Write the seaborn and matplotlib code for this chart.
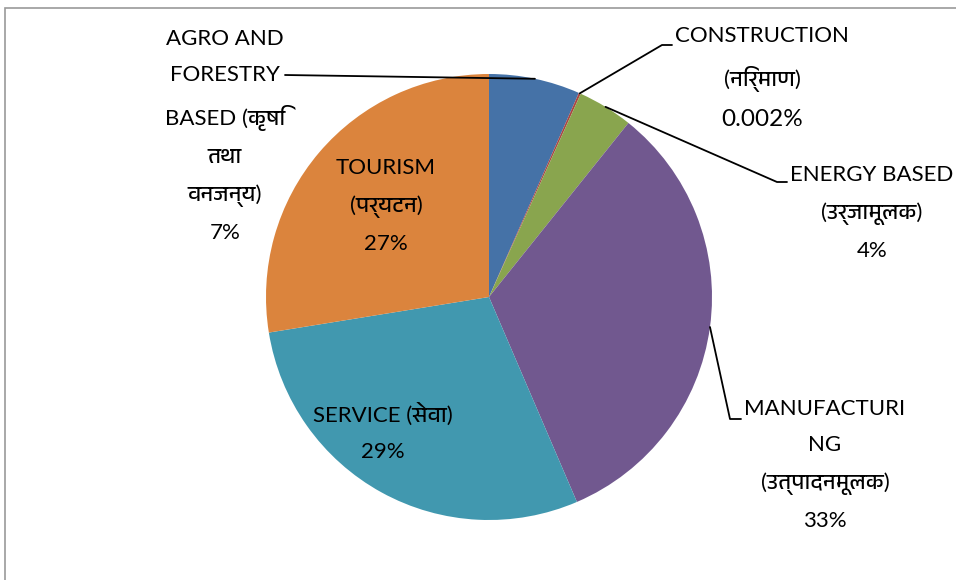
import numpy as np
import matplotlib
matplotlib.use("Agg")
import matplotlib.pyplot as plt
import seaborn as sns
from matplotlib import font_manager
from matplotlib.patches import Rectangle

# slice sizes (percent of a full turn), clockwise from 12 o'clock
sectors = ["AGRO AND\nFORESTRY\nBASED (कृषि\nतथा\nवनजन्य)",
           "CONSTRUCTION\n(निर्माण)",
           "ENERGY BASED\n(उर्जामूलक)",
           "MANUFACTURI\nNG\n(उत्पादनमूलक)",
           "SERVICE (सेवा)",
           "TOURISM\n(पर्यटन)"]
shares = [6.6, 0.15, 4.0, 32.8, 28.9, 27.55]
pct_labels = ["7%", "0.002%", "4%", "33%", "29%", "27%"]
colors = ["#4572A7", "#AA4643", "#89A54E", "#71588F", "#4198AF", "#DB843D"]

sns.set_theme(style="white")
deva = sorted({f.name for f in font_manager.fontManager.ttflist if "Devanagari" in f.name})
families = ["Lato"] + deva[:1] + ["DejaVu Sans"]
plt.rcParams["font.family"] = families

W, H = 956, 580
cx, cy, R = 489, 297, 223

def to_data(px, py):
    return (px - cx) / R, (cy - py) / R

fig = plt.figure(figsize=(W / 100, H / 100), dpi=100)
ax = fig.add_axes([0, 0, 1, 1])
wedges, _ = ax.pie(shares, colors=colors, startangle=90, counterclock=False,
                   radius=1, wedgeprops=dict(linewidth=0))
ax.set_aspect("auto")
ax.set_xlim(-cx / R, (W - cx) / R)
ax.set_ylim(-(H - cy) / R, cy / R)
ax.axis("off")

# outer chart border (only top and left edges fall inside the image)
fig.patches.append(Rectangle((5 / W, -0.1), 1.2, 1.1 - 8 / H, transform=fig.transFigure,
                             fill=False, edgecolor="#9a9a9a", linewidth=1.2))

def mid_point(w, r=1.0):
    a = np.deg2rad((w.theta1 + w.theta2) / 2)
    return r * np.cos(a), r * np.sin(a)

# label layout: text block centre in pixels, leader elbows in pixels
label_pos = {0: (225, 136), 1: (762, 59), 2: (872, 213), 3: (825, 465),
             4: (383, 432), 5: (386, 206)}
elbows = {0: [(285, 75)], 1: [(662, 45), (672, 45)],
          2: [(777, 182), (787, 182)], 3: [(730, 419), (741, 419)]}

fs = 16
ls = 2.0
for i, (name, pct) in enumerate(zip(sectors, pct_labels)):
    x, y = to_data(*label_pos[i])
    if i == 1:
        ax.text(x, y, name, ha="center", va="center", fontsize=fs,
                linespacing=ls, color="black")
        px, py = to_data(762, 120)
        ax.text(px, py, pct, ha="center", va="center", fontsize=17.5, color="black")
    else:
        ax.text(x, y, name + "\n" + pct, ha="center", va="center", fontsize=fs,
                linespacing=ls, color="black")
    if i in elbows:
        sx, sy = mid_point(wedges[i])
        pts = [(sx, sy)] + [to_data(*p) for p in elbows[i]]
        ax.plot([p[0] for p in pts], [p[1] for p in pts], color="black", lw=1.3)

fig.savefig("out.png", dpi=100, facecolor="white")
